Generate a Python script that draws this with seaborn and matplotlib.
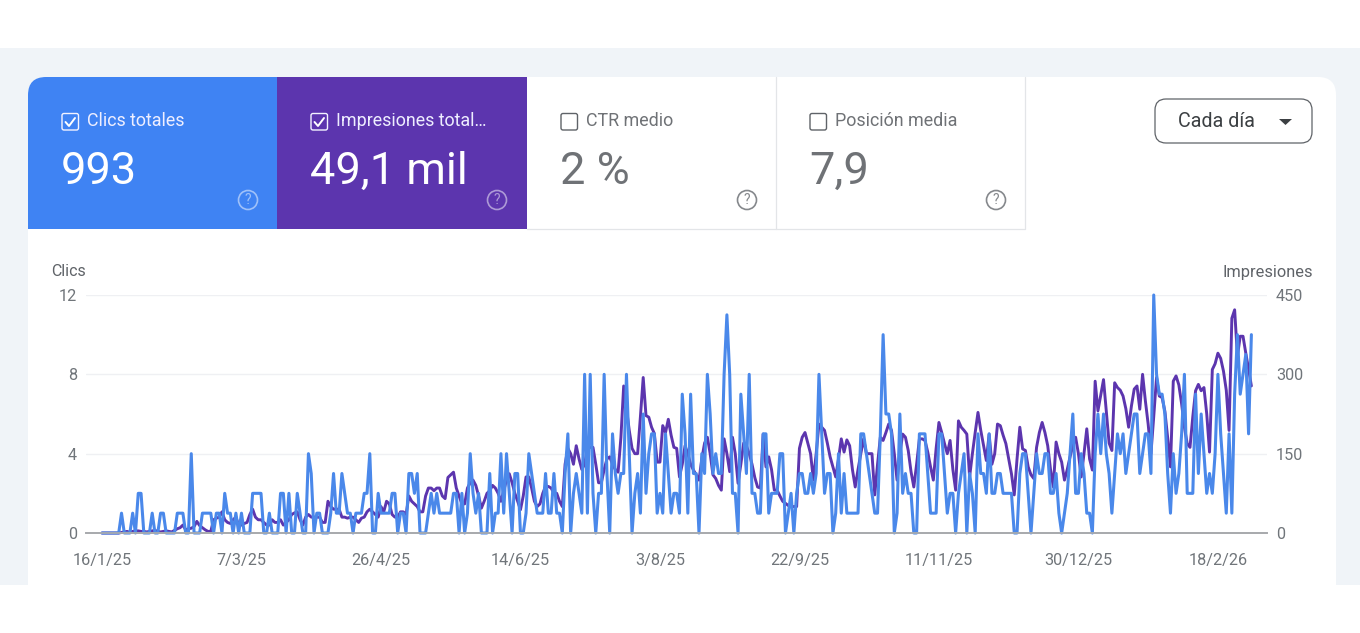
import matplotlib
matplotlib.use("Agg")
import matplotlib.pyplot as plt
from matplotlib.patches import FancyBboxPatch, Rectangle, Circle, Polygon
import seaborn as sns
import pandas as pd

# one value per day, ten days per row
clics = [
    0,0,0,0,0,0,0,1,0,0, 0,1,0,2,2,0,0,0,1,0, 0,1,1,0,0,0,0,1,1,1, 0,0,4,0,0,0,1,1,1,1,
    0,1,1,0,2,1,1,0,1,0, 1,0,0,0,2,2,2,2,0,0, 1,0,0,0,2,2,0,2,0,0, 2,1,0,0,4,3,0,1,1,0,
    0,0,1,3,1,1,3,2,1,1, 0,1,1,1,2,2,4,0,0,2, 1,1,1,1,2,2,0,1,1,0, 3,3,2,3,0,0,0,1,2,1,
    2,1,1,1,1,1,2,2,0,2, 0,1,4,2,1,2,0,0,0,3, 0,1,1,4,1,4,2,0,3,3, 0,0,1,4,3,2,1,1,1,3,
    1,1,3,1,1,0,3,5,0,2, 3,2,1,8,1,8,2,0,2,2, 8,3,0,5,3,2,3,3,8,4, 0,2,3,1,6,2,4,5,5,1,
    2,1,5,3,1,2,2,1,7,5, 1,7,3,3,0,4,3,8,6,3, 4,3,3,8,11,8,2,2,0,7, 5,3,8,2,2,1,1,5,5,1,
    2,2,2,4,4,0,1,2,0,2, 3,3,2,2,3,2,3,8,5,2, 3,3,0,1,4,1,3,1,1,1, 1,1,5,5,4,3,2,1,1,5,
    10,6,6,5,0,1,6,2,3,2, 2,0,0,5,5,5,3,1,1,1, 5,5,3,1,2,2,0,2,3,4, 0,3,2,0,5,3,3,2,5,2,
    2,3,3,2,2,2,2,0,0,3, 4,4,2,0,2,4,3,3,4,4, 2,2,3,1,0,1,2,4,6,2, 2,4,3,1,1,0,4,6,4,6,
    4,3,1,3,5,4,5,3,4,5, 6,6,3,4,5,5,3,12,8,7, 7,6,3,1,4,2,3,5,8,2, 2,2,7,3,6,4,2,3,2,4,
    8,5,3,1,5,1,7,10,7,8, 9,5,10,
]
impresiones = [
    0,0,0,0,0,0,0,1,2,3, 1,3,4,4,3,3,2,3,4,5, 3,2,3,4,3,2,5,8,10,15, 6,8,9,12,22,14,10,6,3,3,
    25,28,30,40,25,20,18,25,30,15, 15,18,20,35,45,30,25,25,20,15, 15,25,20,20,25,15,20,25,35,38,
    40,25,15,30,35,30,30,30,30,20, 20,60,50,45,45,45,30,30,28,30, 30,25,20,28,30,40,45,40,35,30,
    50,40,60,55,35,30,30,40,40,35, 70,60,55,50,40,40,70,85,85,80, 85,85,70,65,105,110,115,85,70,55,
    55,85,95,100,90,70,47,60,75,80, 90,85,75,60,80,100,112,95,75,60, 44,70,106,106,85,60,50,55,75,88,
    88,85,75,75,60,50,130,160,150,130, 165,140,120,130,160,162,162,130,95,95,
    120,140,144,130,120,115,180,278,235,194, 160,150,150,220,294,222,219,200,188,134,
    134,203,190,215,185,162,160,106,130,165, 150,130,119,110,100,140,170,181,150,110,
    103,90,81,178,150,116,181,150,94,130, 170,165,150,130,105,87,85,187,125,144,
    120,81,81,70,60,56,52,50,50,50, 160,181,190,170,150,100,150,206,200,194,
    170,144,125,106,140,178,153,176,165,120, 87,120,150,178,150,150,150,72,130,181,
    175,190,206,194,150,100,150,187,181,156, 116,87,130,178,178,175,153,125,100,160,
    209,190,169,150,175,120,81,212,200,194, 187,106,150,190,228,194,165,137,187,130,
    150,206,203,185,169,140,112,72,140,200, 159,156,125,110,103,162,190,209,190,165,
    120,87,172,150,134,100,120,144,165,181, 150,106,150,197,140,119,287,231,260,290,
    230,170,156,284,275,270,259,235,200,240, 272,278,234,300,250,206,150,220,294,259,
    256,230,180,125,287,297,280,244,200,169, 162,220,269,281,269,275,225,153,309,320,
    340,330,306,270,194,406,422,334,372,372, 340,310,278,
]
fechas_pos = [0, 50, 100, 150, 200, 250, 300, 350, 400]
fechas = ["16/1/25", "7/3/25", "26/4/25", "14/6/25", "3/8/25", "22/9/25", "11/11/25", "30/12/25", "18/2/26"]
ticks_clics = [0, 4, 8, 12]
ticks_impr = [0, 150, 300, 450]

AZUL = "#3f83f3"
MORADO = "#5c35ae"
GRIS = "#5f6368"
df = pd.DataFrame({"dia": range(len(clics)), "clics": clics, "impresiones": impresiones})

sns.set_theme(style="white")
plt.rcParams["font.family"] = ["Roboto", "DejaVu Sans"]

fig = plt.figure(figsize=(13.6, 6.33), dpi=100, facecolor="white")

# page background, in pixels
bg = fig.add_axes([0, 0, 1, 1])
bg.set_xlim(0, 1360)
bg.set_ylim(633, 0)
bg.axis("off")
bg.add_patch(Rectangle((0, 48), 1360, 537, fc="#f0f4f8", ec="none"))
card = FancyBboxPatch((28, 77), 1308, 600, boxstyle="round,pad=0,rounding_size=18", fc="white", ec="none")
bg.add_patch(card)
bg.add_patch(Rectangle((0, 585), 1360, 48, fc="white", ec="none"))

# metric tiles
tiles = [
    (28, 249, AZUL, "Clics totales", "993", True),
    (277, 250, MORADO, "Impresiones total…", "49,1 mil", True),
    (527, 249, "white", "CTR medio", "2 %", False),
    (776, 249, "white", "Posición media", "7,9", False),
]
for x, w, color, label, value, on in tiles:
    ink = "white" if on else "#6f7276"
    r = Rectangle((x, 77), w, 152, fc=color, ec="none")
    bg.add_patch(r)
    r.set_clip_path(card)
    if not on:
        bg.plot([x, x + w, x + w], [229, 229, 77], color="#e3e5e8", lw=0.9)
    bg.add_patch(FancyBboxPatch((x + 34, 113.5), 16.5, 16.5, boxstyle="round,pad=0,rounding_size=2",
                                fc="none", ec="#f3f3ff" if on else "#5f6368", lw=1.0))
    if on:
        bg.plot([x + 37.5, x + 41, x + 47], [122, 126, 118], color="white", lw=1.4)
    bg.text(x + 59, 121, label, color=ink if not on else "#eeeeff", fontsize=12.9, va="center", ha="left")
    bg.text(x + 33, 172, value, color=ink, fontsize=32.5, va="center", ha="left")
    icon = "white" if on else "#85888c"
    bg.add_patch(Circle((x + 220, 200), 9.5, fc="none", ec=icon, lw=1.2, alpha=0.5 if on else 1))
    bg.text(x + 220, 200.5, "?", color=icon, alpha=0.5 if on else 1, fontsize=10, ha="center", va="center")

# daily selector
bg.add_patch(FancyBboxPatch((1155, 99), 157, 44, boxstyle="round,pad=0,rounding_size=11",
                            fc="white", ec=GRIS, lw=0.9))
bg.text(1178, 121.5, "Cada día", color="#3c4043", fontsize=14.2, va="center", ha="left")
bg.add_patch(Polygon([(1279, 119), (1292, 119), (1285.5, 125)], fc="#3c4043", ec="none"))

bg.text(51, 272, "Clics", color=GRIS, fontsize=11.5, va="center", ha="left")
bg.text(1313, 272, "Impresiones", color=GRIS, fontsize=11.8, va="center", ha="right")

# chart, left/bottom/width/height from the pixel box
ax = fig.add_axes([86 / 1360, (633 - 533) / 633, (1267 - 86) / 1360, 238 / 633])
ax2 = ax.twinx()
ax.set_zorder(ax2.get_zorder() + 1)
ax.patch.set_visible(False)
ax2.patch.set_visible(False)

sns.lineplot(data=df, x="dia", y="impresiones", ax=ax2, color=MORADO, lw=2.1, clip_on=False, errorbar=None)
sns.lineplot(data=df, x="dia", y="clics", ax=ax, color="#4a88ea", lw=2.2, clip_on=False, errorbar=None)

ax.set_xlim(-5.73, 417.6)
ax.set_ylim(0, 12)
ax2.set_ylim(0, 450)
ax.set_xlabel("")
ax.set_ylabel("")
ax2.set_ylabel("")
ax.set_xticks(fechas_pos)
ax.set_xticklabels(fechas)
ax.set_yticks(ticks_clics)
ax2.set_yticks(ticks_impr)
ax.tick_params(axis="x", length=0, pad=14.5, labelsize=11.7, labelcolor="#70757a")
ax.tick_params(axis="y", length=0, pad=6.5, labelsize=11.7, labelcolor="#70757a")
ax2.tick_params(axis="y", length=0, pad=6.5, labelsize=11.7, labelcolor="#70757a")
ax2.yaxis.grid(True, color="#eff0f3", lw=1)
ax2.set_axisbelow(True)
for a in (ax, ax2):
    for side in ("top", "left", "right"):
        a.spines[side].set_visible(False)
    a.spines["bottom"].set_color("#a9abae")
    a.spines["bottom"].set_linewidth(1.3)

fig.savefig("out.png", dpi=100)
